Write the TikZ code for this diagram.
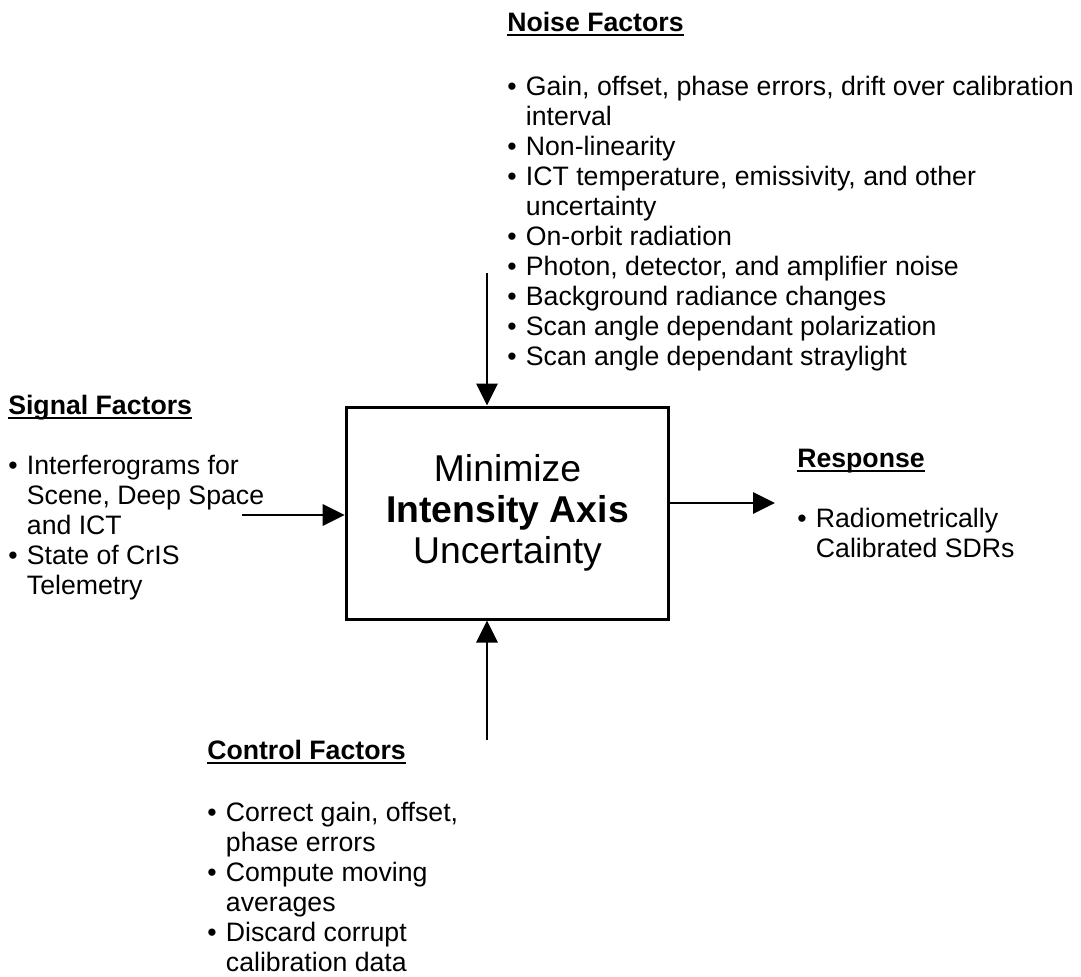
\documentclass[tikz,border=0pt]{standalone}
\usepackage{fontspec}
\setmainfont{Liberation Sans}
\usepackage{tikz}
\usetikzlibrary{arrows.meta}

\newcommand{\bul}{\makebox[14pt][l]{\textbullet}}
\newcommand{\cont}{\hspace*{14pt}}
\newcommand{\hd}[1]{\setbox0\hbox{\bfseries #1}\rlap{\rule[-3pt]{\wd0}{1.5pt}}\box0}
\newcommand{\flist}[1]{\parbox[t]{600pt}{\raggedright #1}}

\begin{document}
\begin{tikzpicture}[x=0.75pt, y=-0.75pt,
  font=\fontsize{20}{22.5}\selectfont,
  head/.style={anchor=base west, inner sep=0pt},
  items/.style={anchor=base west, inner sep=0pt},
  core/.style={draw, line width=2.25pt, minimum width=242pt,
    minimum height=159pt, align=center, inner sep=0pt,
    font=\fontsize{28}{31}\selectfont},
  arr/.style={-{Triangle[length=16.5pt, width=16pt]}, line width=1.5pt}
]
  \useasboundingbox (0,0) rectangle (1081,976);

  % central box
  \node[core] (core) at (507.5,513) {Minimize\\\textbf{Intensity Axis}\\Uncertainty};

  % noise factors (top)
  \node[head] (noisehd) at (507,31.5) {\hd{Noise Factors}};
  \node[items] (noise) at (507,95) {\flist{%
    \bul Gain, offset, phase errors, drift over calibration\\
    \cont interval\\
    \bul Non-linearity\\
    \bul ICT temperature, emissivity, and other\\
    \cont uncertainty\\
    \bul On-orbit radiation\\
    \bul Photon, detector, and amplifier noise\\
    \bul Background radiance changes\\
    \bul Scan angle dependant polarization\\
    \bul Scan angle dependant straylight}};

  % signal factors (left)
  \node[head] (sighd) at (8,414.5) {\hd{Signal Factors}};
  \node[items] (sig) at (8,474.5) {\flist{%
    \bul Interferograms for\\
    \cont Scene, Deep Space\\
    \cont and ICT\\
    \bul State of CrIS\\
    \cont Telemetry}};

  % response (right)
  \node[head] (resphd) at (797,467.5) {\hd{Response}};
  \node[items] (resp) at (797,527.5) {\flist{%
    \bul Radiometrically\\
    \cont Calibrated SDRs}};

  % control factors (bottom)
  \node[head] (ctrlhd) at (207,759.5) {\hd{Control Factors}};
  \node[items] (ctrl) at (207,821.5) {\flist{%
    \bul Correct gain, offset,\\
    \cont phase errors\\
    \bul Compute moving\\
    \cont averages\\
    \bul Discard corrupt\\
    \cont calibration data}};

  % free ends of the arrows
  \coordinate (noisein) at (487,273);
  \coordinate (sigin) at (242,515);
  \coordinate (respout) at (775,503);
  \coordinate (ctrlin) at (487,740);

  \draw[arr] (noisein) -- (noisein |- core.north);
  \draw[arr] (sigin) -- (core.west |- sigin);
  \draw[arr] (core.east |- respout) -- (respout);
  \draw[arr] (ctrlin) -- (ctrlin |- core.south);
\end{tikzpicture}
\end{document}
